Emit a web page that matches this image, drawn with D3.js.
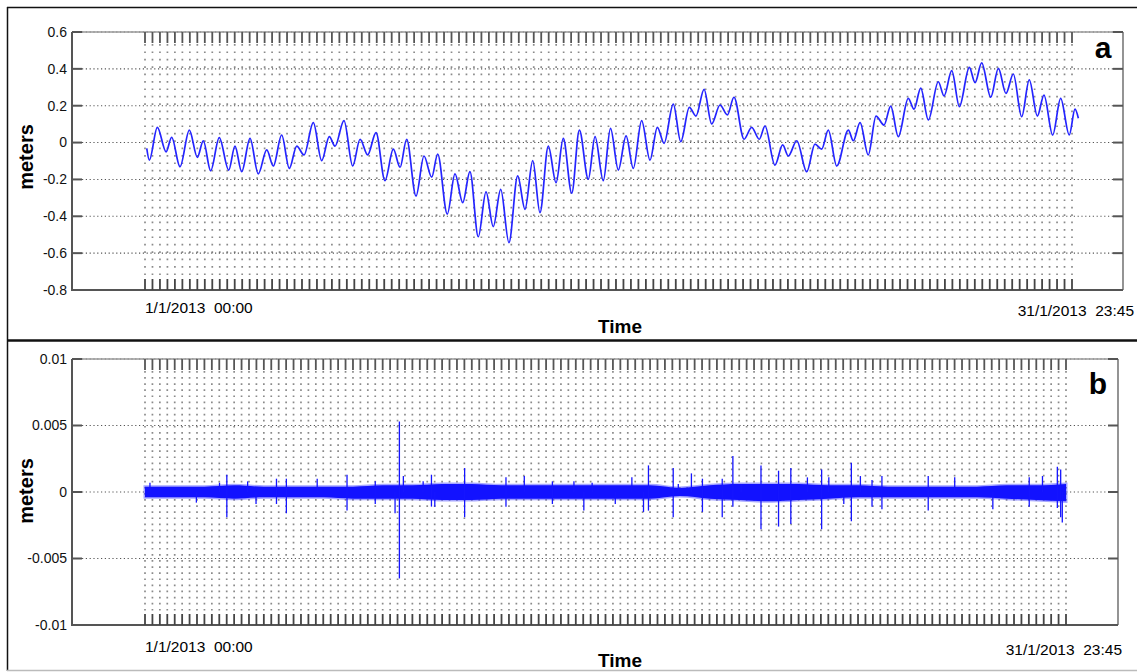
<!DOCTYPE html>
<html>

<head>
    <meta charset="UTF-8">
    <style>
        body { margin: 0; background: #fff; }
        svg { display: block; font-family: "Liberation Sans", Arial, sans-serif; }
        .date { white-space: pre; }
    </style>
</head>

<body>
    <svg></svg>
    <script src="https://d3js.org/d3.v7.min.js"></script>

    <script>

        let width = 1137, height = 672;

        // panel a: sea level, turning points (hours from 1/1 00:00, meters)
        const tideHours = [1.4, 3.5, 9.9, 16.9, 21.4, 28.1, 35.6, 42.0, 46.8, 52.7,
            59.6, 67.2, 72.2, 77.6, 84.3, 90.9, 97.7, 103.0, 109.7, 115.8,
            121.8, 127.6, 135.1, 141.8, 147.9, 152.5, 159.7, 166.7, 172.6, 178.7,
            185.4, 192.6, 199.3, 204.7, 210.0, 217.5, 223.9, 230.1, 234.9, 242.6,
            248.8, 255.0, 260.8, 267.5, 273.7, 279.5, 285.5, 292.1, 299.1, 305.0,
            311.2, 317.0, 323.7, 329.9, 335.7, 342.5, 348.6, 355.8, 361.2, 367.8,
            373.6, 379.9, 386.1, 391.9, 398.6, 405.3, 411.2, 416.6, 424.0, 430.0,
            436.9, 442.2, 448.7, 454.8, 461.5, 467.4, 472.7, 480.8, 486.9, 493.0,
            497.6, 505.6, 511.8, 516.3, 523.1, 531.1, 537.7, 543.1, 548.4, 555.2,
            564.5, 568.5, 573.9, 580.5, 586.7, 593.1, 598.5, 604.6, 612.6, 617.2,
            622.6, 628.7, 636.7, 641.3, 647.5, 653.6, 661.6, 666.2, 671.5, 678.8,
            684.9, 691.0, 696.9, 703.6, 709.7, 716.2, 721.5, 728.5, 734.9, 741.8,
            746.4, 749.1];
        const tideMeters = [-0.031, -0.095, 0.083, -0.050, 0.029, -0.131, 0.068, -0.080, 0.010, -0.153,
            0.027, -0.149, -0.019, -0.158, 0.023, -0.170, -0.040, -0.127, 0.041, -0.140,
            -0.019, -0.067, 0.108, -0.098, 0.032, -0.019, 0.119, -0.127, 0.018, -0.067,
            0.054, -0.207, -0.036, -0.134, 0.018, -0.290, -0.073, -0.188, -0.062, -0.388,
            -0.170, -0.326, -0.158, -0.511, -0.267, -0.456, -0.254, -0.543, -0.181, -0.362,
            -0.098, -0.380, -0.019, -0.218, 0.023, -0.275, 0.068, -0.199, 0.032, -0.207,
            0.077, -0.149, 0.036, -0.140, 0.119, -0.095, 0.083, -0.004, 0.209, 0.005,
            0.191, 0.144, 0.289, 0.101, 0.204, 0.150, 0.246, 0.018, 0.083, 0.018,
            0.090, -0.122, -0.013, -0.073, 0.010, -0.158, -0.008, -0.036, 0.068, -0.127,
            0.068, 0.010, 0.108, -0.067, 0.144, 0.095, 0.198, 0.032, 0.240, 0.181,
            0.295, 0.123, 0.330, 0.253, 0.390, 0.195, 0.408, 0.325, 0.433, 0.246,
            0.403, 0.267, 0.372, 0.140, 0.340, 0.144, 0.258, 0.041, 0.240, 0.041,
            0.181, 0.132];

        // panel b: residual noise band, one value per day boundary (0..31)
        const bandUpper = [0.0004, 0.0004, 0.0004, 0.0005, 0.0004, 0.0004, 0.0004, 0.0004, 0.0005, 0.0005,
            0.0006, 0.0006, 0.0005, 0.0005, 0.0005, 0.0005, 0.0005, 0.0005, 0.0003, 0.0005,
            0.0006, 0.0006, 0.0006, 0.0005, 0.0005, 0.0004, 0.0004, 0.0004, 0.0004, 0.0005,
            0.0005, 0.0006];
        const bandLower = [-0.0004, -0.0004, -0.0004, -0.0005, -0.0004, -0.0004, -0.0004, -0.0005, -0.0005, -0.0005,
            -0.0006, -0.0006, -0.0005, -0.0005, -0.0005, -0.0005, -0.0005, -0.0005, -0.0003, -0.0005,
            -0.0006, -0.0007, -0.0006, -0.0005, -0.0004, -0.0004, -0.0004, -0.0004, -0.0004, -0.0005,
            -0.0006, -0.0007];

        // panel b: spikes (hours, highest and lowest value, 0 = stays in band)
        const spikeHours = [4.0, 41.5, 60.2, 66.1, 82.9, 89.7, 106.2, 114.2, 139.1, 163.2,
            186.0, 202.0, 205.5, 208.7, 224.7, 231.4, 234.1, 258.2, 291.6, 306.4,
            329.1, 346.5, 354.5, 361.2, 379.9, 393.3, 402.7, 406.7, 426.7, 430.8,
            441.4, 450.3, 466.3, 474.9, 481.6, 497.6, 511.8, 521.7, 535.1, 546.6,
            552.4, 564.5, 570.6, 577.9, 587.3, 595.3, 632.7, 654.1, 684.9, 714.3,
            725.0, 737.0, 739.7, 741.0];
        const spikeUp = [0.0007, 0, 0.0007, 0.0013, 0.0008, 0, 0.001, 0.001, 0.001, 0.0013,
            0.0008, 0, 0.0053, 0.0012, 0.0008, 0.0013, 0, 0.0018, 0.0011, 0.0012,
            0.0008, 0.0008, 0, 0.0007, 0, 0.0011, 0, 0.002, 0.0018, 0.0006,
            0.0014, 0.001, 0.001, 0.0027, 0.0006, 0.002, 0.0016, 0.0018, 0.0011, 0.0017,
            0.0011, 0, 0.0022, 0.0012, 0.0009, 0.0012, 0.0012, 0.0011, 0, 0.0011,
            0.0012, 0.0019, 0.0017, 0];
        const spikeDown = [0, -0.0008, 0, -0.0019, 0, -0.0009, -0.0009, -0.0016, 0, -0.0014,
            -0.0009, -0.0016, -0.0065, 0, 0, -0.0011, -0.0011, -0.0019, -0.0011, 0,
            -0.0009, 0, -0.0014, 0, -0.0009, 0, -0.0015, -0.0014, -0.0019, 0,
            0, -0.0015, -0.0019, -0.0011, 0, -0.0028, -0.0026, -0.0024, 0, -0.0028,
            0, -0.0009, -0.0022, 0, -0.0011, -0.0013, -0.0014, 0, -0.0013, -0.0011,
            0, -0.0012, -0.0019, -0.0023];

        const yTicksA = [0.6, 0.4, 0.2, 0, -0.2, -0.4, -0.6, -0.8];
        const yLabelsA = ["0.6", "0.4", "0.2", "0", "-0.2", "-0.4", "-0.6", "-0.8"];
        const yTicksB = [0.01, 0.005, 0, -0.005, -0.01];
        const yLabelsB = ["0.01", "0.005", "0", "-0.005", "-0.01"];
        const dateLabels = ["1/1/2013  00:00", "31/1/2013  23:45"];
        const totalHours = 744, tickStep = 6;

        let svg = d3.select("svg")
            .attr("width", width)
            .attr("height", height)
            .attr("viewBox", "0 0 " + width + " " + height);

        // outer frames
        svg.append("line").attr("x1", 7).attr("x2", width).attr("y1", 7.5).attr("y2", 7.5)
            .attr("stroke", "#111").attr("stroke-width", 1.5);
        svg.append("line").attr("x1", 7.5).attr("x2", 7.5).attr("y1", 7).attr("y2", 671)
            .attr("stroke", "#111").attr("stroke-width", 1.5);
        svg.append("line").attr("x1", 7).attr("x2", width).attr("y1", 340.5).attr("y2", 340.5)
            .attr("stroke", "#111").attr("stroke-width", 2.5);
        svg.append("line").attr("x1", 7).attr("x2", width).attr("y1", 670.5).attr("y2", 670.5)
            .attr("stroke", "#bbb").attr("stroke-width", 1.5);

        function drawPanel(p) {
            let g = svg.append("g");
            let x = d3.scaleLinear().domain([0, totalHours]).range([145, p.gridRight]);
            let y = d3.scaleLinear().domain(p.domain).range([p.bottom, p.top]);
            let hourTicks = d3.range(0, totalHours + 1, tickStep);

            // dotted vertical grid
            g.append("g").selectAll("line").data(hourTicks).enter().append("line")
                .attr("x1", d => x(d)).attr("x2", d => x(d))
                .attr("y1", p.top + 12).attr("y2", p.bottom - 10)
                .attr("stroke", "#8a8a8a").attr("stroke-width", 1.7)
                .attr("stroke-dasharray", p.dots);

            // dotted horizontal grid
            g.append("g").selectAll("line").data(p.ticks).enter().append("line")
                .attr("x1", p.left + 10).attr("x2", p.right - 10)
                .attr("y1", d => y(d)).attr("y2", d => y(d))
                .attr("stroke", "#555").attr("stroke-width", 1.1)
                .attr("stroke-dasharray", "1.2,2.6");

            p.drawData(g, x, y);

            // box
            g.append("line").attr("x1", p.left).attr("x2", p.right).attr("y1", p.top).attr("y2", p.top)
                .attr("stroke", "#999").attr("stroke-width", 1.5);
            g.append("line").attr("x1", p.right).attr("x2", p.right).attr("y1", p.top).attr("y2", p.bottom)
                .attr("stroke", "#888").attr("stroke-width", 1.8);
            g.append("line").attr("x1", p.left).attr("x2", p.left).attr("y1", p.top).attr("y2", p.bottom + 1)
                .attr("stroke", "#555").attr("stroke-width", 2);
            g.append("line").attr("x1", p.left).attr("x2", p.right).attr("y1", p.bottom).attr("y2", p.bottom)
                .attr("stroke", "#555").attr("stroke-width", 2);

            // time ticks top and bottom
            g.append("g").selectAll("line").data(hourTicks).enter().append("line")
                .attr("x1", d => x(d)).attr("x2", d => x(d))
                .attr("y1", p.top).attr("y2", p.top + 11)
                .attr("stroke", "#555").attr("stroke-width", 1.8);
            g.append("g").selectAll("line").data(hourTicks).enter().append("line")
                .attr("x1", d => x(d)).attr("x2", d => x(d))
                .attr("y1", p.bottom - 11).attr("y2", p.bottom)
                .attr("stroke", "#444").attr("stroke-width", 1.8);

            // value ticks left and right
            g.append("g").selectAll("line").data(p.ticks).enter().append("line")
                .attr("x1", p.left).attr("x2", p.left + 10)
                .attr("y1", d => y(d)).attr("y2", d => y(d))
                .attr("stroke", "#555").attr("stroke-width", 2);
            g.append("g").selectAll("line").data(p.ticks).enter().append("line")
                .attr("x1", p.right - 10).attr("x2", p.right)
                .attr("y1", d => y(d)).attr("y2", d => y(d))
                .attr("stroke", "#555").attr("stroke-width", 2);

            g.append("g").selectAll("text").data(p.ticks).enter().append("text")
                .attr("x", p.left - 5).attr("y", d => y(d))
                .attr("dy", "0.35em")
                .attr("text-anchor", "end")
                .attr("font-size", 14)
                .attr("fill", "#111")
                .text((d, i) => p.labels[i]);

            g.append("text")
                .attr("transform", "translate(33," + p.midY + ") rotate(-90)")
                .attr("text-anchor", "middle")
                .attr("font-size", 20).attr("font-weight", "bold")
                .text("meters");

            g.append("text")
                .attr("x", 620).attr("y", p.timeY)
                .attr("text-anchor", "middle")
                .attr("font-size", 19).attr("font-weight", "bold")
                .text("Time");

            g.append("text").attr("class", "date")
                .attr("x", 145).attr("y", p.dateY)
                .attr("font-size", 15.5)
                .text(dateLabels[0]);
            g.append("text").attr("class", "date")
                .attr("x", p.dateRight).attr("y", p.dateY + 3)
                .attr("text-anchor", "end")
                .attr("font-size", 15.5)
                .text(dateLabels[1]);

            g.append("text")
                .attr("x", p.right - 20).attr("y", p.tagY)
                .attr("text-anchor", "middle")
                .attr("font-size", 30).attr("font-weight", "bold")
                .text(p.tag);
        }

        drawPanel({
            left: 72, right: 1123, top: 32, bottom: 290, gridRight: 1072,
            domain: [-0.8, 0.6], ticks: yTicksA, labels: yLabelsA,
            dots: "1.7,5.7", midY: 157, timeY: 333, dateY: 313, dateRight: 1134,
            tag: "a", tagY: 58,
            drawData: (g, x, y) => {
                let line = d3.line()
                    .x(i => x(tideHours[i]))
                    .y(i => y(tideMeters[i]))
                    .curve(d3.curveMonotoneX);
                g.append("path")
                    .attr("d", line(d3.range(tideHours.length)))
                    .attr("fill", "none")
                    .attr("stroke", "#2424ff")
                    .attr("stroke-width", 1.7);
            }
        });

        drawPanel({
            left: 72, right: 1118, top: 359, bottom: 625, gridRight: 1066,
            domain: [-0.01, 0.01], ticks: yTicksB, labels: yLabelsB,
            dots: "1.7,4.4", midY: 491, timeY: 667, dateY: 652, dateRight: 1122,
            tag: "b", tagY: 394,
            drawData: (g, x, y) => {
                let area = d3.area()
                    .x(i => x(i * 24))
                    .y0(i => y(bandLower[i]))
                    .y1(i => y(bandUpper[i]))
                    .curve(d3.curveMonotoneX);
                // soft fringe round the dense band
                g.append("path")
                    .attr("d", area(d3.range(bandUpper.length)))
                    .attr("fill", "none")
                    .attr("stroke", "#3a3aff")
                    .attr("stroke-opacity", 0.45)
                    .attr("stroke-width", 3);
                g.append("path")
                    .attr("d", area(d3.range(bandUpper.length)))
                    .attr("fill", "#1212ff");
                g.append("g").selectAll("line").data(spikeHours).enter().append("line")
                    .attr("x1", d => x(d)).attr("x2", d => x(d))
                    .attr("y1", (d, i) => y(spikeDown[i]))
                    .attr("y2", (d, i) => y(spikeUp[i]))
                    .attr("stroke", "#1515ff")
                    .attr("stroke-width", 1.3);
            }
        });

    </script>

</body>

</html>
